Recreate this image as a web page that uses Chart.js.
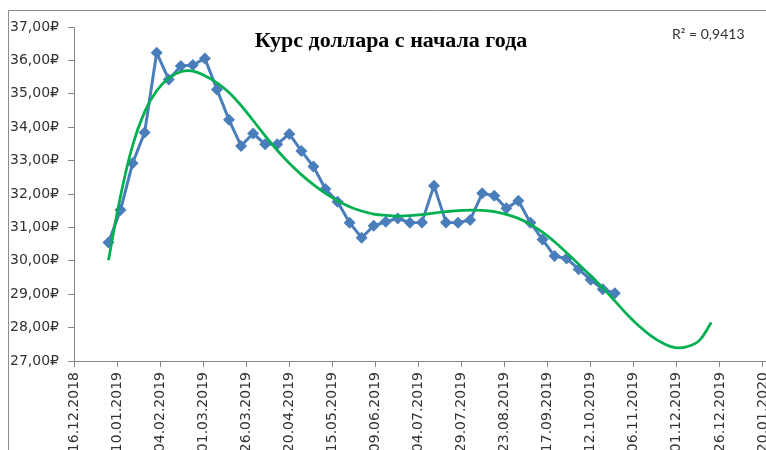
<!DOCTYPE html>
<html>
<head>
<meta charset="utf-8">
<script src="https://cdn.jsdelivr.net/npm/chart.js@4/dist/chart.umd.min.js"></script>
<style>
  html, body { margin: 0; padding: 0; background: #fff; overflow: hidden; width: 766px; height: 450px; }
  #wrap { position: absolute; left: 0; top: 0; width: 860px; height: 520px; }
</style>
</head>
<body>
<div id="wrap"><canvas id="c" width="860" height="520"></canvas></div>
<script>
// weekly quotes
const dates = [
  '05.01.2019','12.01.2019','19.01.2019','26.01.2019','02.02.2019','09.02.2019','16.02.2019',
  '23.02.2019','02.03.2019','09.03.2019','16.03.2019','23.03.2019','30.03.2019','06.04.2019',
  '13.04.2019','20.04.2019','27.04.2019','04.05.2019','11.05.2019','18.05.2019','25.05.2019',
  '01.06.2019','08.06.2019','15.06.2019','22.06.2019','29.06.2019','06.07.2019','13.07.2019',
  '20.07.2019','27.07.2019','03.08.2019','10.08.2019','17.08.2019','24.08.2019','31.08.2019',
  '07.09.2019','14.09.2019','21.09.2019','28.09.2019','05.10.2019','12.10.2019','19.10.2019',
  '26.10.2019'
];
const rates = [
  30.55, 31.52, 32.92, 33.84, 36.23, 35.43, 35.83, 35.86, 36.06, 35.13, 34.22, 33.44, 33.81, 33.49,
  33.49, 33.80, 33.29, 32.82, 32.15, 31.77, 31.14, 30.69, 31.05, 31.17, 31.27, 31.14, 31.15, 32.25,
  31.15, 31.14, 31.22, 32.02, 31.95, 31.57, 31.80, 31.14, 30.64, 30.14, 30.07, 29.75, 29.43, 29.15,
  29.03
];

// polynomial trend, continued 8 weeks ahead
const forecastDates = [
  '02.11.2019','09.11.2019','16.11.2019','23.11.2019','30.11.2019','07.12.2019','14.12.2019','21.12.2019'
];
const trendDates = dates.concat(forecastDates);
const trendValues = [
  30.02, 31.93, 33.45, 34.46, 35.09, 35.47, 35.66, 35.68, 35.54, 35.33, 35.04, 34.65, 34.20, 33.74,
  33.31, 32.92, 32.58, 32.28, 32.02, 31.80, 31.62, 31.49, 31.40, 31.36, 31.34, 31.35, 31.38, 31.43,
  31.47, 31.50, 31.52, 31.51, 31.47, 31.39, 31.27, 31.09, 30.86, 30.57, 30.24, 29.90, 29.55, 29.19,
  28.80, 28.40, 28.05, 27.75, 27.53, 27.40, 27.43, 27.61, 28.15
];
const rSquared = '0,9413';

const xTickLabels = [
  '16.12.2018','10.01.2019','04.02.2019','01.03.2019','26.03.2019','20.04.2019','15.05.2019',
  '09.06.2019','04.07.2019','29.07.2019','23.08.2019','17.09.2019','12.10.2019','06.11.2019',
  '01.12.2019','26.12.2019','20.01.2020','14.02.2020'
];
const yTickValues = [27, 28, 29, 30, 31, 32, 33, 34, 35, 36, 37];

const BLUE = '#4a7ebb';
const GREEN = '#00b050';
const AXIS = '#868686';
const TXT = '#333333';

function dayNum(s) {
  const [d, m, y] = s.split('.').map(Number);
  return Date.UTC(y, m - 1, d) / 864e5;
}

const framePlugin = {
  id: 'frame',
  beforeDraw(ch) {
    const c = ch.ctx; c.save();
    c.strokeStyle = '#8c8c8c'; c.lineWidth = 1;
    c.beginPath();
    c.moveTo(8.5, ch.height); c.lineTo(8.5, 10.5); c.lineTo(ch.width, 10.5);
    c.stroke();
    c.restore();
  },
  afterDraw(ch) {
    const c = ch.ctx; c.save();
    c.fillStyle = '#000';
    c.font = "bold 22px 'Liberation Serif'";
    c.textAlign = 'center'; c.textBaseline = 'alphabetic';
    c.fillText('Курс доллара с начала года', 391, 47);
    c.fillStyle = TXT;
    c.font = "14px Lato";
    c.textAlign = 'left';
    c.fillText('R² = ' + rSquared, 672, 39);
    c.restore();
  }
};

new Chart(document.getElementById('c'), {
  type: 'line',
  plugins: [framePlugin],
  data: {
    datasets: [
      {
        label: 'Курс',
        data: dates.map((d, i) => ({ x: dayNum(d), y: rates[i] })),
        borderColor: BLUE, backgroundColor: BLUE,
        borderWidth: 3, tension: 0,
        pointStyle: 'rectRot', pointRadius: 6, pointBorderWidth: 0,
        pointBackgroundColor: BLUE,
        order: 2
      },
      {
        label: 'Тренд',
        data: trendDates.map((d, i) => ({ x: dayNum(d), y: trendValues[i] })),
        borderColor: GREEN, borderWidth: 2.75,
        pointRadius: 0, tension: 0.4,
        fill: false, order: 1
      }
    ]
  },
  options: {
    responsive: false,
    animation: false,
    layout: { padding: { left: 0, top: 27, right: 54, bottom: 0 } },
    scales: {
      x: {
        type: 'linear',
        min: dayNum(xTickLabels[0]),
        max: dayNum(xTickLabels[xTickLabels.length - 1]),
        afterBuildTicks(s) { s.ticks = xTickLabels.map(l => ({ value: dayNum(l) })); },
        afterFit(s) { s.height = 159; },
        ticks: {
          autoSkip: false, minRotation: 90, maxRotation: 90, padding: 5,
          color: TXT, font: { family: 'DejaVu Sans', size: 14 },
          callback: (v, i) => xTickLabels[i]
        },
        grid: { drawOnChartArea: false, drawTicks: true, tickLength: 6, tickColor: AXIS },
        border: { display: true, color: AXIS, width: 1 }
      },
      y: {
        min: yTickValues[0], max: yTickValues[yTickValues.length - 1],
        afterBuildTicks(s) { s.ticks = yTickValues.map(v => ({ value: v })); },
        afterFit(s) { s.width = 74; },
        ticks: {
          padding: 9, color: TXT, font: { family: 'DejaVu Sans', size: 14 },
          callback: v => v.toFixed(2).replace('.', ',') + '₽'
        },
        grid: { drawOnChartArea: false, drawTicks: true, tickLength: 6, tickColor: AXIS },
        border: { display: true, color: AXIS, width: 1 }
      }
    },
    plugins: { legend: { display: false }, tooltip: { enabled: false }, title: { display: false } }
  }
});
</script>
</body>
</html>
